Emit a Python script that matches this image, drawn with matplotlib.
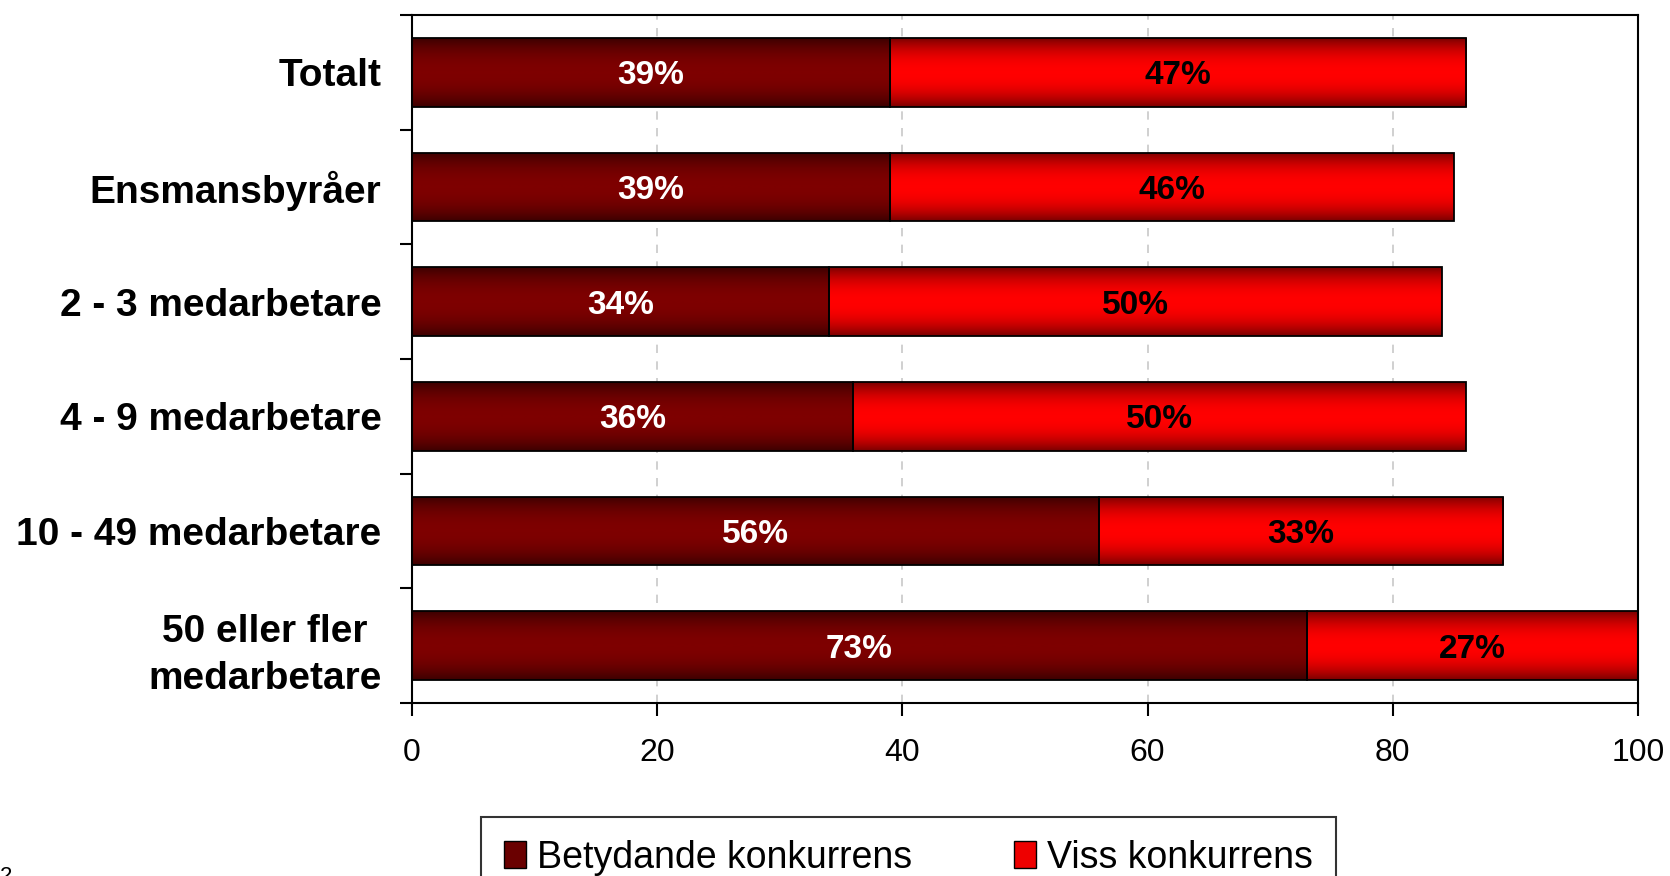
import numpy as np
import matplotlib.pyplot as plt
from matplotlib.colors import LinearSegmentedColormap
from matplotlib.patches import Patch

plt.rcParams['font.family'] = ['Liberation Sans', 'DejaVu Sans']

# Data
categories = ["Totalt", "Ensmansbyråer", "2 - 3 medarbetare", "4 - 9 medarbetare",
              "10 - 49 medarbetare", "50 eller fler\nmedarbetare"]
betydande = [39, 39, 34, 36, 56, 73]
viss = [47, 46, 50, 50, 33, 27]
series_names = ["Betydande konkurrens", "Viss konkurrens"]
xticks = [0, 20, 40, 60, 80, 100]

dark_cmap = LinearSegmentedColormap.from_list("dark", ["#3c0000", "#7e0000"])
red_cmap = LinearSegmentedColormap.from_list("red", ["#7a0000", "#ff0000"])


def shade_bars(ax, bars, cmap):
    """Fill each bar with a vertical gradient: dark at the edges, bright in the middle."""
    t = np.linspace(0, 1, 200)
    profile = 1 - np.abs(2 * t - 1) ** 2.2
    grad = profile.reshape(-1, 1)
    for bar in bars:
        x0, y0 = bar.get_x(), bar.get_y()
        w, h = bar.get_width(), bar.get_height()
        im = ax.imshow(grad, cmap=cmap, vmin=0, vmax=1, aspect='auto',
                       extent=(x0, x0 + w, y0 + h, y0), zorder=2, interpolation='bilinear')
        im.set_clip_path(bar)


fig = plt.figure(figsize=(16.7, 8.76), dpi=100)
ax = fig.add_axes([0.2467, 0.1975, 0.9808 - 0.2467, 0.9829 - 0.1975])

y = np.arange(len(categories))
left = np.array(betydande)
bars1 = ax.barh(y, betydande, height=0.6, facecolor='none', edgecolor='black',
                linewidth=1.3, zorder=3)
bars2 = ax.barh(y, viss, left=left, height=0.6, facecolor='none', edgecolor='black',
                linewidth=1.3, zorder=3)
shade_bars(ax, bars1, dark_cmap)
shade_bars(ax, bars2, red_cmap)

# Value labels
for i in range(len(categories)):
    ax.text(betydande[i] / 2, y[i], f"{betydande[i]}%", ha='center', va='center_baseline',
            color='white', fontsize=24, fontweight='bold', zorder=4)
    ax.text(betydande[i] + viss[i] / 2, y[i], f"{viss[i]}%", ha='center', va='center_baseline',
            color='black', fontsize=24, fontweight='bold', zorder=4)

ax.set_xlim(0, 100)
ax.set_ylim(len(categories) - 0.5, -0.5)

# Axes styling
ax.set_xticks(xticks)
ax.tick_params(axis='x', labelsize=23, length=9, width=1.5, pad=16, direction='out')
ax.xaxis.grid(True, linestyle=(0, (5, 5)), color='#c8c8c8', linewidth=1.2, zorder=0)
ax.set_axisbelow(True)

ax.set_yticks(np.arange(len(categories) + 1) - 0.5)
ax.set_yticklabels([])
ax.set_yticks(y, minor=True)
ax.set_yticklabels(categories, minor=True, fontsize=28, fontweight='bold')
ax.tick_params(axis='y', which='major', length=9, width=1.5, direction='out')
ax.tick_params(axis='y', which='minor', length=0, pad=22)
for lbl in ax.get_yticklabels(minor=True):
    lbl.set_multialignment('center')
    lbl.set_linespacing(1.4)

for spine in ax.spines.values():
    spine.set_linewidth(1.5)

# Legend
handles = [Patch(facecolor='#6a0000', edgecolor='black', linewidth=1),
           Patch(facecolor='#ee0000', edgecolor='black', linewidth=1)]
leg = fig.legend(handles, series_names, loc='upper center', bbox_to_anchor=(0.544, 0.067),
                 ncol=2, fontsize=27, frameon=True, fancybox=False, edgecolor='black',
                 handlelength=0.6, handleheight=0.75, handletextpad=0.3, columnspacing=2.7,
                 borderpad=0.6, borderaxespad=0)
leg.get_frame().set_linewidth(1.5)

# Page-number remnant at the bottom-left edge
fig.text(0.0, -0.012, "2", fontsize=16, ha='left', va='bottom')

fig.savefig("out.png", dpi=100)
